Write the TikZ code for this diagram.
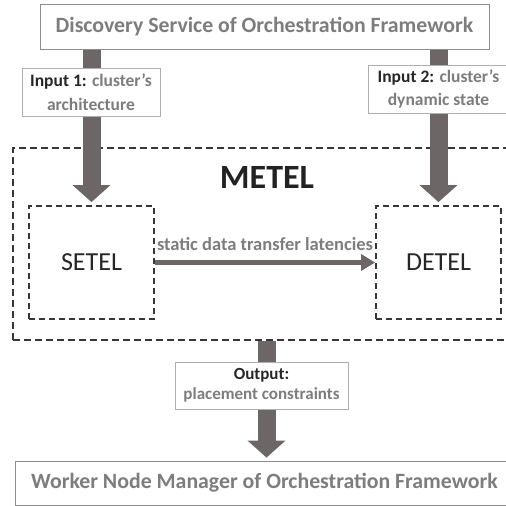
\documentclass[tikz,border=0pt]{standalone}
\usepackage{fontspec}
\setmainfont{Carlito}
\usetikzlibrary{arrows.meta}
\definecolor{txtgray}{RGB}{125,125,125}
\definecolor{txtdark}{RGB}{38,38,38}
\definecolor{arrgray}{RGB}{108,103,102}
\definecolor{dashgray}{RGB}{55,55,55}
\definecolor{boxgray}{RGB}{140,140,140}
\definecolor{lblgray}{RGB}{175,175,175}
\begin{document}
\begin{tikzpicture}[x=1pt, y=-1pt, line join=miter,
		framebox/.style={draw=boxgray, fill=white, line width=0.8pt, inner sep=0pt, text=txtgray, font=\fontsize{21.8}{24}\selectfont\bfseries},
		lblbox/.style={draw=lblgray, fill=white, line width=0.6pt, inner sep=0pt, align=center, text=txtgray},
		modbox/.style={draw=dashgray, line width=1.8pt, dash pattern=on 6pt off 4pt, inner sep=0pt, minimum width=125pt, minimum height=113pt, font=\fontsize{26}{30}\selectfont, text=txtdark},
		bigarrow/.style={arrgray, line width=18pt, -{Triangle[width=37pt, length=17pt]}},
		thinarrow/.style={arrgray, line width=5pt, -{Triangle[width=16pt, length=14pt]}}]
	\clip (0,0) rectangle (506,506);
	\useasboundingbox (0,0) rectangle (506,506);
	% outer frames
	\node[framebox, minimum width=449pt, minimum height=45pt] (disc) at (264.5,27) {Discovery Service of Orchestration Framework};
	\node[framebox, minimum width=499pt, minimum height=44pt] (worker) at (264.5,483) {Worker Node Manager of Orchestration Framework};
	\node[draw=dashgray, line width=2.6pt, dash pattern=on 7pt off 4pt, minimum width=510pt, minimum height=192pt, inner sep=0pt] (metel) at (268,244) {};
	\node[font=\fontsize{34}{38}\selectfont\bfseries, text=txtdark!90!black] (metellbl) at (267,177) {METEL};
	% inner modules
	\node[modbox] (setel) at (91.5,262.5) {SETEL};
	\node[modbox] (detel) at (438.5,262.5) {DETEL};
	% arrows
	\draw[bigarrow, shorten >=3pt] (disc.south -| setel.north) -- (setel.north);
	\draw[bigarrow, shorten >=3pt] (disc.south -| detel.north) -- (detel.north);
	\draw[thinarrow] (setel.east) -- (detel.west) node[midway, above=9pt, inner sep=0pt, text=txtgray, font=\fontsize{18.5}{20}\selectfont\bfseries] (static) {static data transfer latencies};
	\draw[bigarrow, shorten >=3pt] ([xshift=2pt]worker.north |- metel.south) -- ([xshift=2pt]worker.north);
	% labels on the arrows
	\node[lblbox, minimum width=138pt, minimum height=48pt, font=\fontsize{17.5}{24}\selectfont\bfseries] (in1) at (91,92) {{\color{txtdark}Input 1:} cluster’s\\architecture};
	\node[lblbox, minimum width=141pt, minimum height=48pt, font=\fontsize{17.5}{23}\selectfont\bfseries] (in2) at (438.5,89) {{\color{txtdark}Input 2:} cluster’s\\dynamic state};
	\node[lblbox, minimum width=173pt, minimum height=47pt, font=\fontsize{17}{20}\selectfont\bfseries] (out) at (261.5,385.5) {{\color{txtdark}Output:}\\placement constraints};
\end{tikzpicture}
\end{document}
